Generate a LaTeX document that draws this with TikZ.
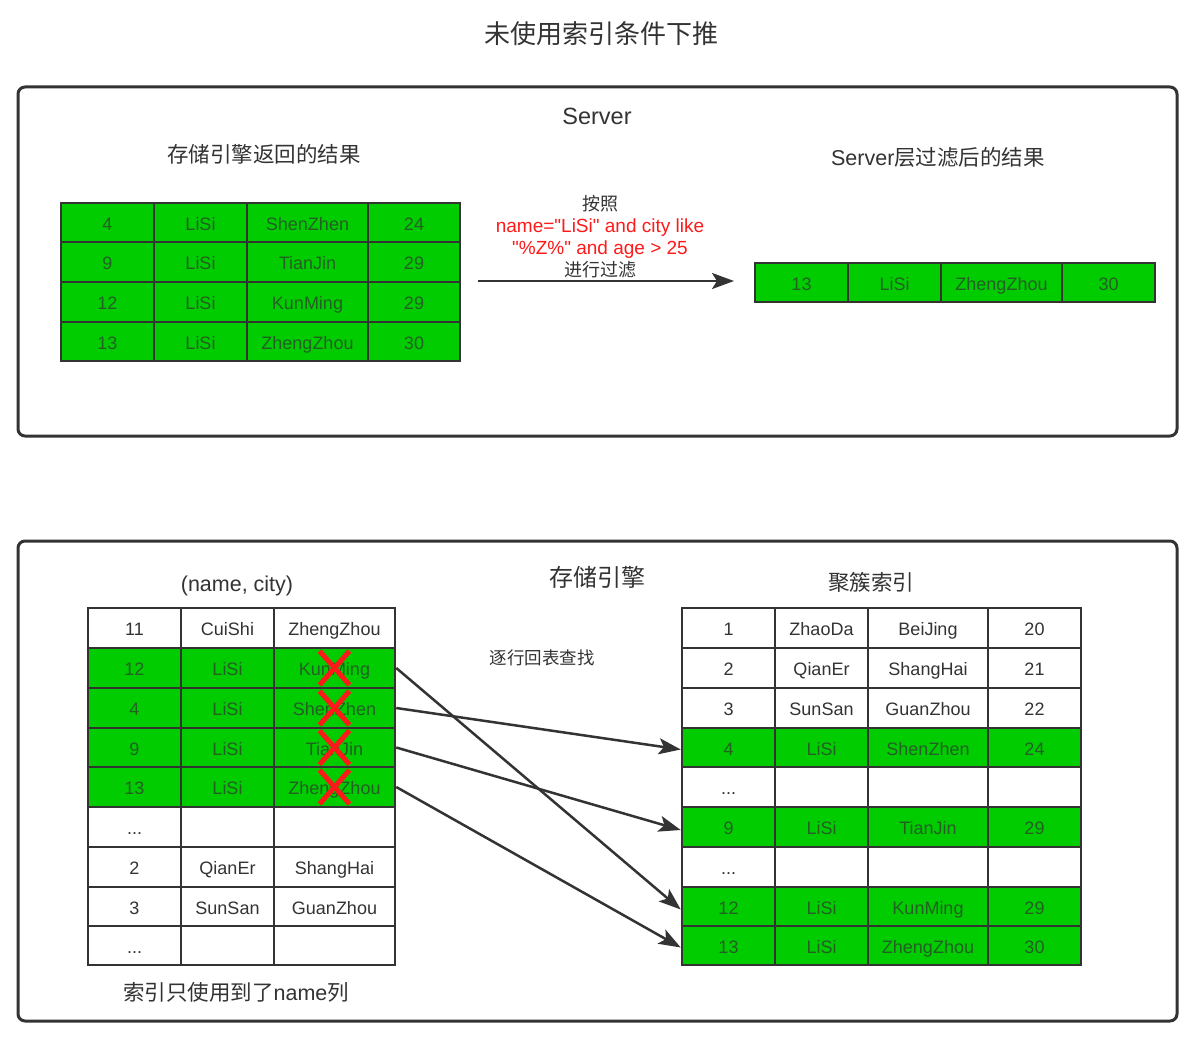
\documentclass[tikz,border=0pt]{standalone}
\usepackage{fontspec}
\setmainfont{Liberation Sans}
\newfontfamily\lat{Liberation Sans}
\newfontfamily\cjk{Noto Sans CJK SC}
\usetikzlibrary{arrows.meta}
\definecolor{ln}{HTML}{333333}
\definecolor{gr}{HTML}{00CC00}
\definecolor{gtxt}{HTML}{245F24}
\definecolor{xred}{HTML}{FF1A1A}
\tikzset{
  cellbase/.style={draw=ln, line width=2.5pt, inner sep=0pt, rectangle,
    font=\lat\fontsize{18}{20}\selectfont, text height=15.9pt, text depth=0pt},
  wcell/.style={cellbase, fill=white, text=ln},
  gcell/.style={cellbase, fill=gr, text=gtxt},
  box/.style={draw=ln, line width=3pt, rounded corners=7pt, fill=none, inner sep=0pt},
  lbl/.style={text=ln, inner sep=0pt, text height=15.9pt, text depth=0pt,
    font=\lat\fontsize{21.5}{24}\selectfont},
  arr/.style={draw=ln, line width=2.5pt, -{Stealth[length=22pt,width=16pt,inset=5pt]}},
  xmark/.style={draw=xred, line width=5pt}
}
% four-column row: prefix, y1, y2, style, t1..t4 ; columns \ca..\ce
\newcommand\rowfour[8]{%
  \node[#4, minimum width={(\cb-\ca)*1pt}, minimum height={(#3-#2)*1pt}] (#1c1) at ({(\ca+\cb)/2},{(#2+#3)/2}) {#5};
  \node[#4, minimum width={(\cc-\cb)*1pt}, minimum height={(#3-#2)*1pt}] (#1c2) at ({(\cb+\cc)/2},{(#2+#3)/2}) {#6};
  \node[#4, minimum width={(\cd-\cc)*1pt}, minimum height={(#3-#2)*1pt}] (#1c3) at ({(\cc+\cd)/2},{(#2+#3)/2}) {#7};
  \node[#4, minimum width={(\ce-\cd)*1pt}, minimum height={(#3-#2)*1pt}] (#1c4) at ({(\cd+\ce)/2},{(#2+#3)/2}) {#8};
}
\newcommand\rowthree[7]{%
  \node[#4, minimum width={(\cb-\ca)*1pt}, minimum height={(#3-#2)*1pt}] (#1c1) at ({(\ca+\cb)/2},{(#2+#3)/2}) {#5};
  \node[#4, minimum width={(\cc-\cb)*1pt}, minimum height={(#3-#2)*1pt}] (#1c2) at ({(\cb+\cc)/2},{(#2+#3)/2}) {#6};
  \node[#4, minimum width={(\cd-\cc)*1pt}, minimum height={(#3-#2)*1pt}] (#1c3) at ({(\cc+\cd)/2},{(#2+#3)/2}) {#7};
}
\newcommand\xcross[1]{%
  \draw[xmark] ([shift={(-15,-17)}]#1.center) -- ([shift={(15,17)}]#1.center);
  \draw[xmark] ([shift={(-15,17)}]#1.center) -- ([shift={(15,-17)}]#1.center);
}
\begin{document}
\begin{tikzpicture}[x=1pt,y=-1pt]
\useasboundingbox[fill=white] (0,0) rectangle (1200,1041);

% title
\node[lbl, text height=19.2pt, font=\fontsize{26}{30}\selectfont\cjk] (title) at (601,34) {未使用索引条件下推};

% ===== Server box =====
\node[box, minimum width=1159pt, minimum height=349pt] (server) at (597.5,261.5) {};
\node[lbl, text height=17.4pt, font=\lat\fontsize{23.5}{26}\selectfont] (serverlbl) at (597,116) {Server};
\node[lbl, font=\fontsize{21.5}{24}\selectfont\cjk] (retlbl) at (264,155) {存储引擎返回的结果};
\node[lbl] (filtlbl) at (938,158) {Server{\cjk 层过滤后的结果}};

\def\ca{61}\def\cb{154}\def\cc{247}\def\cd{368}\def\ce{460}
\rowfour{ta}{203}{242}{gcell}{4}{LiSi}{ShenZhen}{24}
\rowfour{tb}{242}{282}{gcell}{9}{LiSi}{TianJin}{29}
\rowfour{tc}{282}{322}{gcell}{12}{LiSi}{KunMing}{29}
\rowfour{td}{322}{361}{gcell}{13}{LiSi}{ZhengZhou}{30}

\def\ca{755}\def\cb{848}\def\cc{941}\def\cd{1062}\def\ce{1155}
\rowfour{ra}{263}{302}{gcell}{13}{LiSi}{ZhengZhou}{30}

\coordinate (a1) at (478,281);
\coordinate (a2) at (734,281);
\draw[arr] (a1) -- (a2);
\node[text=ln, inner sep=0pt, align=center, font=\lat\fontsize{18}{22}\selectfont] (arrlbl) at (600,237)
  {{\cjk 按照}\\ \textcolor{xred}{\fontsize{19}{22}\selectfont name="LiSi" and city like}\\ \textcolor{xred}{\fontsize{19}{22}\selectfont "\%Z\%" and age > 25}\\ {\cjk 进行过滤}};

% ===== Storage engine box =====
\node[box, minimum width=1159pt, minimum height=480pt] (engine) at (597.5,781) {};
\node[lbl, text height=17.8pt, font=\fontsize{24}{27}\selectfont\cjk] (englbl) at (597,578) {存储引擎};
\node[lbl] (idxlbl) at (237,584) {(name, city)};
\node[lbl, font=\fontsize{21.5}{24}\selectfont\cjk] (cluslbl) at (871,583) {聚簇索引};
\node[lbl, text height=12.95pt, font=\fontsize{17.5}{20}\selectfont\cjk] (lookup) at (542,658) {逐行回表查找};
\node[lbl] (namelbl) at (236,993) {{\cjk 索引只使用到了}name{\cjk 列}};

% left index table
\def\ca{88}\def\cb{181}\def\cc{274}\def\cd{395}
\rowthree{La}{608}{648}{wcell}{11}{CuiShi}{ZhengZhou}
\rowthree{Lb}{648}{688}{gcell}{12}{LiSi}{KunMing}
\rowthree{Lc}{688}{728}{gcell}{4}{LiSi}{ShenZhen}
\rowthree{Ld}{728}{767}{gcell}{9}{LiSi}{TianJin}
\rowthree{Le}{767}{807}{gcell}{13}{LiSi}{ZhengZhou}
\rowthree{Lf}{807}{847}{wcell}{...}{}{}
\rowthree{Lg}{847}{887}{wcell}{2}{QianEr}{ShangHai}
\rowthree{Lh}{887}{926}{wcell}{3}{SunSan}{GuanZhou}
\rowthree{Li}{926}{965}{wcell}{...}{}{}

\xcross{Lbc3}
\xcross{Lcc3}
\xcross{Ldc3}
\xcross{Lec3}

% right clustered table
\def\ca{682}\def\cb{775}\def\cc{868}\def\cd{988}\def\ce{1081}
\rowfour{Ra}{608}{648}{wcell}{1}{ZhaoDa}{BeiJing}{20}
\rowfour{Rb}{648}{688}{wcell}{2}{QianEr}{ShangHai}{21}
\rowfour{Rc}{688}{728}{wcell}{3}{SunSan}{GuanZhou}{22}
\rowfour{Rd}{728}{767}{gcell}{4}{LiSi}{ShenZhen}{24}
\rowfour{Re}{767}{807}{wcell}{...}{}{}{}
\rowfour{Rf}{807}{847}{gcell}{9}{LiSi}{TianJin}{29}
\rowfour{Rg}{847}{887}{wcell}{...}{}{}{}
\rowfour{Rh}{887}{926}{gcell}{12}{LiSi}{KunMing}{29}
\rowfour{Ri}{926}{965}{gcell}{13}{LiSi}{ZhengZhou}{30}

% lookups
\draw[arr] (Lbc3.east) -- ([yshift=-3pt]Rhc1.west);
\draw[arr] (Lcc3.east) -- ([yshift=-2pt]Rdc1.west);
\draw[arr] (Ldc3.east) -- ([yshift=-3pt]Rfc1.west);
\draw[arr] (Lec3.east) -- ([yshift=-2pt]Ric1.west);
\end{tikzpicture}
\end{document}
